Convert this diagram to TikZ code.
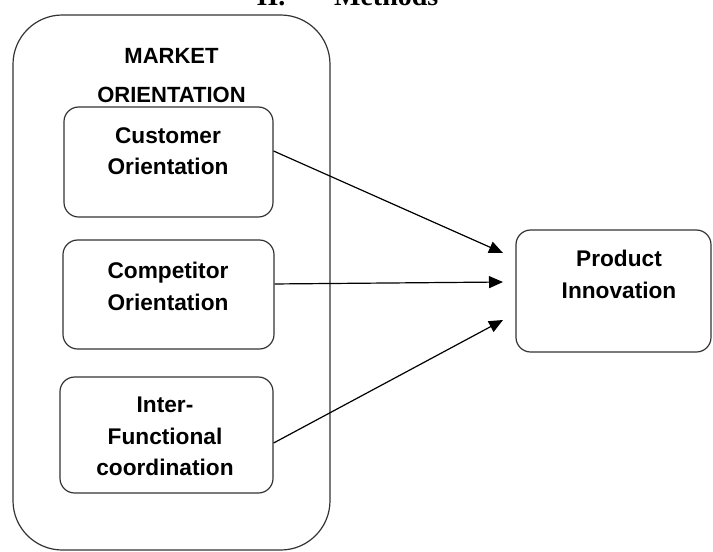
\documentclass[tikz,border=0pt]{standalone}
\usepackage{fontspec}
\newfontfamily\labelfont{Liberation Sans}
\newfontfamily\titlefont{Liberation Serif}
\usetikzlibrary{arrows.meta}
\tikzset{
	outerstyle/.style={rectangle,draw=black!80,line width=0.9pt,rounded corners=37pt,minimum width=237.75pt,minimum height=401.25pt},
	boxstyle/.style={rectangle,draw=black!80,line width=0.9pt,rounded corners=11pt,fill=white},
	textstyle/.style={anchor=north,inner sep=0pt,align=center,font=\labelfont\bfseries\fontsize{17}{23.5}\selectfont},
	linkstyle/.style={draw=black,line width=0.9pt,-{Triangle[length=10.5pt,width=9pt]}}
}
\begin{document}
\begin{tikzpicture}[x=0.75pt,y=-0.75pt]
	\useasboundingbox (0,0) rectangle (713,551);
	\node[anchor=base,inner sep=0pt,font=\titlefont\bfseries\fontsize{21}{25}\selectfont] (title) at (347.5,5) {II.\hspace{36.5pt}Methods};
	\node[outerstyle] (market) at (171.5,282.5) {};
	\node[textstyle,font=\labelfont\bfseries\fontsize{16.5}{29}\selectfont] (markettxt) at (171.5,48) {MARKET\\ORIENTATION};
	\node[boxstyle,minimum width=156.75pt,minimum height=82.5pt] (cust) at (168.5,162) {};
	\node[boxstyle,minimum width=158.25pt,minimum height=81.75pt] (comp) at (168.5,294.5) {};
	\node[boxstyle,minimum width=159.75pt,minimum height=87pt] (inter) at (166.5,435) {};
	\node[boxstyle,minimum width=146.25pt,minimum height=91.5pt] (prod) at (613.5,291) {};
	\node[textstyle] (custtxt) at (168,127) {Customer\\Orientation};
	\node[textstyle] (comptxt) at (168,262) {Competitor\\Orientation};
	\node[textstyle] (intertxt) at (165,397) {Inter-\\Functional\\coordination};
	\node[textstyle] (prodtxt) at (619,250) {Product\\Innovation};
	\coordinate (in1) at (503,253);
	\coordinate (in2) at (503,282);
	\coordinate (in3) at (503,320);
	\draw[linkstyle] ([yshift=8.25pt]cust.east)--(in1);
	\draw[linkstyle] ([yshift=7.9pt]comp.east)--(in2);
	\draw[linkstyle] ([yshift=-6pt]inter.east)--(in3);
\end{tikzpicture}
\end{document}
